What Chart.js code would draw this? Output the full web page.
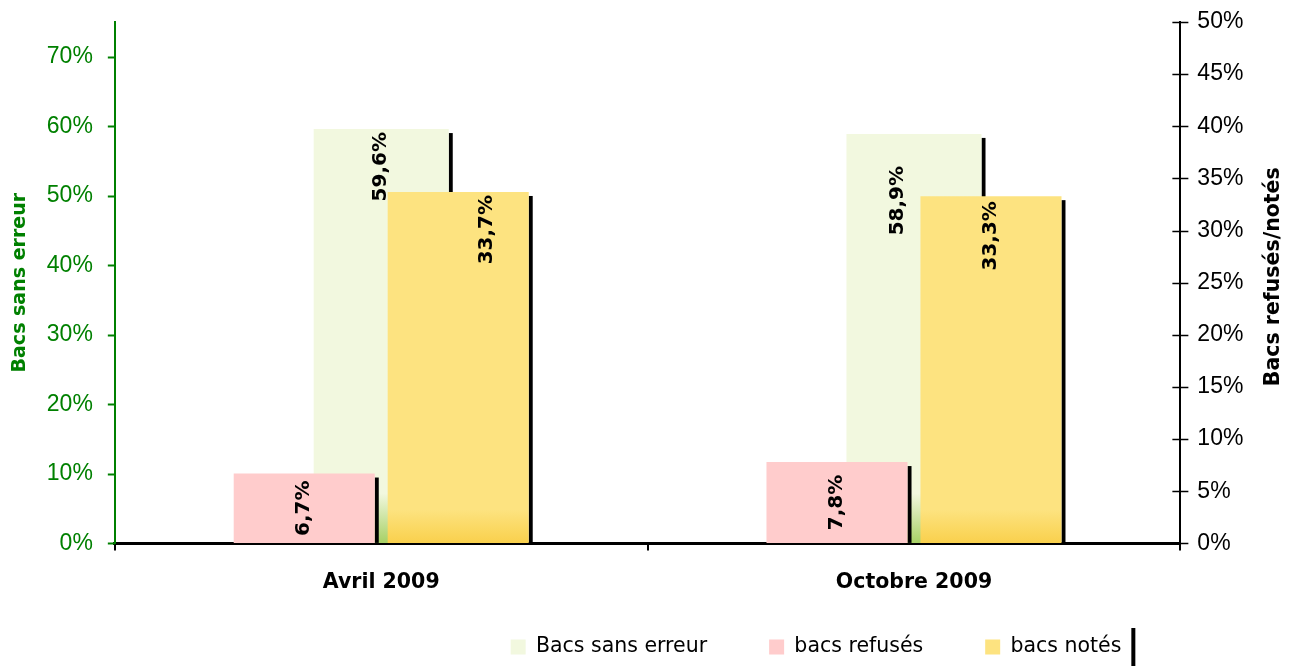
<!DOCTYPE html>
<html>
<head>
<meta charset="utf-8">
<script src="https://cdn.jsdelivr.net/npm/chart.js@4"></script>
<style>
  html, body { margin: 0; background: #fff; }
</style>
</head>
<body>
<canvas id="chart" width="1298" height="666"></canvas>
<script>
const categories = ['Avril 2009', 'Octobre 2009']
const sansErreur = [59.6, 58.9]
const refuses = [6.7, 7.8]
const notes = [33.7, 33.3]
const seriesNames = ['Bacs sans erreur', 'bacs refusés', 'bacs notés']
const rightTitle = 'Bacs refusés/notés'

const GREEN = '#008000'
const fills = ['#F2F8DF', '#FFCCCC', '#FDE380']
const fillBottoms = ['#A6D064', '#FFCCCC', '#F9D04C']
const fadeHeights = [50, 0, 34]

const pct = v => v.toFixed(1).replace('.', ',') + '%'

// excel-style fade at the foot of the bars
const barFill = i => ctx => {
  const area = ctx.chart.chartArea
  if (!area || !fadeHeights[i]) return fills[i]
  const g = ctx.chart.ctx.createLinearGradient(0, area.bottom - fadeHeights[i], 0, area.bottom)
  g.addColorStop(0, fills[i])
  g.addColorStop(1, fillBottoms[i])
  return g
}

const shadowPlugin = {
  id: 'barShadow',
  beforeDatasetDraw (chart, args) {
    const { ctx, chartArea } = chart
    ctx.save()
    ctx.beginPath()
    ctx.rect(chartArea.left, chartArea.top, chartArea.width, chartArea.height)
    ctx.clip()
    ctx.fillStyle = '#000'
    args.meta.data.forEach(bar => {
      const { x, y, base, width } = bar.getProps(['x', 'y', 'base', 'width'], true)
      ctx.fillRect(x + width / 2, y + 4, 4, base - y - 4)
    })
    ctx.restore()
  }
}

// label offsets copied from the hand-placed excel labels
const labelNudge = { 0: [[0, 0], [-16, 29]], 2: [[29, 0], [0, 2]] }

const labelPlugin = {
  id: 'barLabels',
  afterDatasetsDraw (chart) {
    const { ctx } = chart
    chart.data.datasets.forEach((ds, di) => {
      const meta = chart.getDatasetMeta(di)
      meta.data.forEach((bar, i) => {
        const { x, y, base } = bar.getProps(['x', 'y', 'base'], true)
        const [dx, dy] = (labelNudge[di] || [])[i] || [0, 0]
        ctx.save()
        ctx.font = 'bold 20px "DejaVu Sans"'
        ctx.fillStyle = '#000'
        ctx.textBaseline = 'middle'
        if (di === 1) {
          ctx.translate(x + dx, (y + base) / 2 + dy)
          ctx.textAlign = 'center'
        } else {
          ctx.translate(x + dx, y + 3 + dy)
          ctx.textAlign = 'right'
        }
        ctx.rotate(-Math.PI / 2)
        ctx.fillText(pct(ds.data[i]), 0, 0)
        ctx.restore()
      })
    })
  }
}

const legendShiftX = 167
const legendMidY = 647

const tickMarks = (ctx, scale, from, to, color, width) => {
  ctx.strokeStyle = color
  ctx.lineWidth = width
  scale.ticks.forEach((t, i) => {
    const py = Math.round(scale.getPixelForTick(i)) + 0.5
    ctx.beginPath()
    ctx.moveTo(from, py)
    ctx.lineTo(to, py)
    ctx.stroke()
  })
}

const axisExtras = {
  id: 'axisExtras',
  afterLayout (chart) {
    const lg = chart.legend
    const pad = lg.options.labels.padding
    lg.left += legendShiftX
    lg.right += legendShiftX
    lg.top = legendMidY - pad - lg.options.labels.font.size / 2
  },
  afterDraw (chart) {
    const { ctx } = chart
    const left = chart.scales.y
    const right = chart.scales.y1
    ctx.save()
    // short outward ticks on the left, crossing ticks on the right
    tickMarks(ctx, left, left.right - 7, left.right, GREEN, 2)
    tickMarks(ctx, right, right.left - 8, right.left + 8, '#000', 1.5)
    // right axis title reads upwards, like the left one
    const tOpts = right.options.title
    const lh = tOpts.font.size * 1.2
    ctx.translate(right.right - tOpts.padding.top - lh / 2, (right.top + right.bottom) / 2 - 6)
    ctx.rotate(-Math.PI / 2)
    ctx.font = 'bold ' + tOpts.font.size + 'px "DejaVu Sans"'
    ctx.fillStyle = '#000'
    ctx.textAlign = 'center'
    ctx.textBaseline = 'middle'
    ctx.fillText(rightTitle, 0, 0)
    ctx.restore()
    // black edge left at the end of the legend
    const lg = chart.legend
    const pad = lg.options.labels.padding
    const start = (lg.left + pad + lg.right - lg.lineWidths[0]) / 2
    const end = start + lg.lineWidths[0] - pad
    ctx.fillStyle = '#000'
    ctx.fillRect(end + 10, legendMidY - 19, 4, 40)
  }
}

const config = {
  type: 'bar',
  data: {
    labels: categories,
    datasets: [{
      label: seriesNames[0],
      data: sansErreur,
      backgroundColor: barFill(0),
      yAxisID: 'y',
      grouped: false,
      categoryPercentage: 0.2535,
      barPercentage: 1,
      order: 2
    }, {
      label: seriesNames[1],
      data: refuses,
      backgroundColor: barFill(1),
      yAxisID: 'y1',
      categoryPercentage: 0.578,
      barPercentage: 0.916,
      order: 1
    }, {
      label: seriesNames[2],
      data: notes,
      backgroundColor: barFill(2),
      yAxisID: 'y1',
      categoryPercentage: 0.578,
      barPercentage: 0.916,
      order: 1
    }]
  },
  options: {
    responsive: false,
    animation: false,
    layout: { padding: { top: 22, left: 0, right: 0, bottom: 0 } },
    plugins: {
      tooltip: { enabled: false },
      legend: {
        position: 'bottom',
        maxHeight: 51,
        labels: {
          color: '#000',
          font: { family: 'DejaVu Sans', size: 20.5 },
          boxWidth: 15,
          boxHeight: 15,
          padding: 62,
          generateLabels: chart => chart.data.datasets.map((ds, i) => ({
            text: ds.label,
            fillStyle: fills[i],
            strokeStyle: fills[i],
            lineWidth: 0,
            hidden: false,
            datasetIndex: i
          }))
        }
      }
    },
    scales: {
      x: {
        grid: { drawOnChartArea: false, color: '#000', tickLength: 7, lineWidth: 2, offset: true },
        border: { color: '#000', width: 3 },
        ticks: { color: '#000', font: { family: 'DejaVu Sans', size: 20.5, weight: 'bold' }, padding: 20 }
      },
      y: {
        position: 'left',
        min: 0,
        max: 75,
        grid: { drawOnChartArea: false, tickColor: 'rgba(0,0,0,0)', tickLength: 18 },
        border: { color: GREEN, width: 2 },
        ticks: {
          stepSize: 10,
          includeBounds: false,
          color: GREEN,
          padding: 4,
          font: { family: 'Liberation Sans', size: 23 },
          callback: v => v + '%'
        },
        title: {
          display: true,
          text: 'Bacs sans erreur',
          color: GREEN,
          font: { family: 'DejaVu Sans', size: 19, weight: 'bold' },
          padding: { top: 9, bottom: 11 }
        }
      },
      y1: {
        position: 'right',
        min: 0,
        max: 50,
        grid: { drawOnChartArea: false, tickColor: 'rgba(0,0,0,0)', tickLength: 13 },
        border: { color: '#000', width: 2 },
        ticks: {
          stepSize: 5,
          color: '#000',
          padding: 4,
          font: { family: 'Liberation Sans', size: 23 },
          callback: v => v + '%'
        },
        // space is kept here, the text itself is drawn in axisExtras
        title: {
          display: true,
          text: rightTitle,
          color: 'rgba(0,0,0,0)',
          font: { family: 'DejaVu Sans', size: 20.5, weight: 'bold' },
          padding: { top: 12, bottom: 14 }
        }
      }
    }
  },
  plugins: [shadowPlugin, labelPlugin, axisExtras]
}

new Chart(document.getElementById('chart'), config) // eslint-disable-line
</script>
</body>
</html>
